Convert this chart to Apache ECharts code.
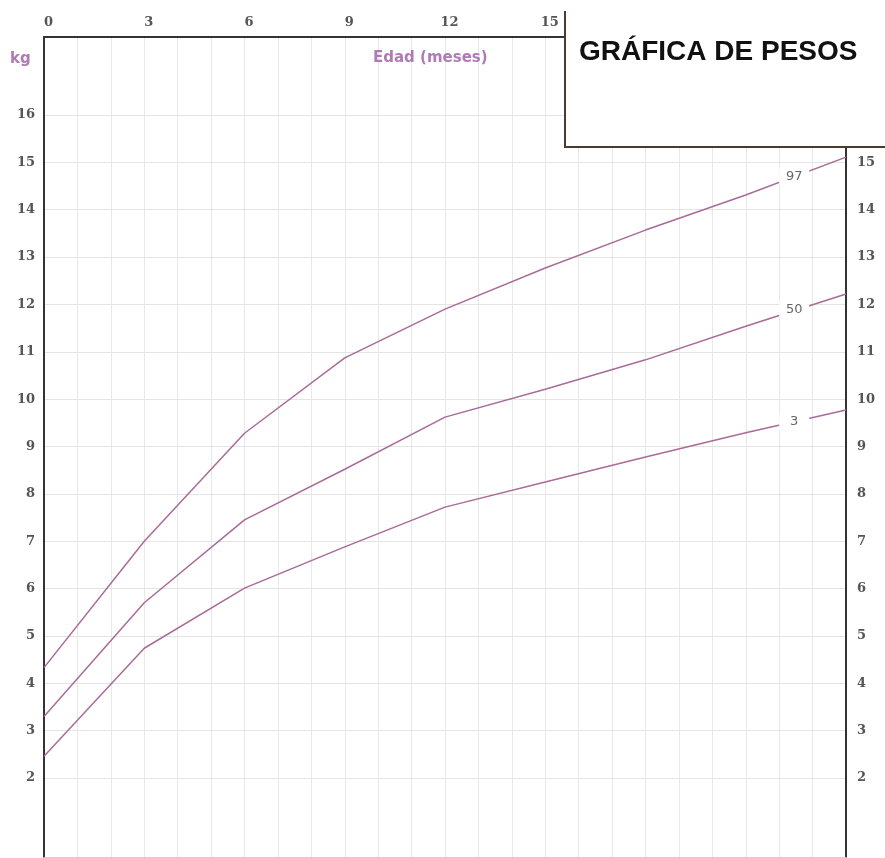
<!DOCTYPE html>
<html>
<head>
<meta charset="utf-8">
<script src="https://cdn.jsdelivr.net/npm/echarts@6/dist/echarts.min.js"></script>
<style>
  html, body { margin: 0; padding: 0; background: #fff; }
  #chart { width: 885px; height: 858px; }
</style>
</head>
<body>
<div id="chart"></div>
<script>
// ---- data ----
const months = [0, 3, 6, 9, 12, 15, 18, 21, 24];
const p97 = [4.33, 7.0, 9.28, 10.87, 11.9, 12.77, 13.57, 14.31, 15.11];
const p50 = [3.3, 5.7, 7.45, 8.52, 9.62, 10.21, 10.83, 11.54, 12.22];
const p3  = [2.46, 4.74, 6.01, 6.88, 7.72, 8.25, 8.78, 9.29, 9.77];
const seriesNames = ['97', '50', '3'];
const labelMonth = 22.45;
const labelValues = [14.7, 11.9, 9.52];
const topTickLabels = [0, 3, 6, 9, 12, 15, 18, 21, 24];
const kgMin = 2, kgMax = 16;
const title = 'GRÁFICA DE PESOS';
const yName = 'kg';
const xName = 'Edad (meses)';

const chart = echarts.init(document.getElementById('chart'), null, { renderer: 'canvas' });

const lineColor = '#a96b98';
const frameColor = '#333';
const tickFont = { fontFamily: 'DejaVu Serif', fontWeight: 'bold', fontSize: 13, color: '#555' };
const allSeries = [p97, p50, p3];

const series = allSeries.map((vals, i) => ({
  name: seriesNames[i],
  type: 'line',
  xAxisIndex: 2,
  yAxisIndex: 2,
  data: months.map((m, j) => [m, vals[j]]),
  symbol: 'none',
  lineStyle: { color: lineColor, width: 1.5 },
  itemStyle: { color: lineColor },
  silent: true,
  animation: false,
  z: 3,
  markPoint: {
    silent: true,
    animation: false,
    symbol: 'rect',
    symbolSize: [30, 16],
    itemStyle: { color: '#ffffff' },
    label: {
      show: true,
      position: 'inside',
      formatter: seriesNames[i],
      color: '#666',
      fontFamily: 'DejaVu Sans',
      fontSize: 13,
      padding: [3, 0, 0, 0]
    },
    data: [{ coord: [labelMonth, labelValues[i]] }]
  }
}));

const option = {
  animation: false,
  backgroundColor: '#ffffff',
  grid: [
    { left: 44, width: 802, top: 37, bottom: 1, containLabel: false, outerBoundsMode: 'none' },
    { left: 44, width: 802, top: 115, bottom: 80, containLabel: false, outerBoundsMode: 'none' }
  ],
  xAxis: [
    {
      gridIndex: 0, type: 'value', position: 'top', min: 0, max: 24, interval: 1,
      axisLine: { show: true, onZero: false, lineStyle: { color: frameColor, width: 2 } },
      axisTick: { show: false },
      axisLabel: Object.assign({
        margin: 8,
        padding: [0, 0, 0, 9],
        formatter: v => (topTickLabels.indexOf(v) >= 0 ? String(v) : '')
      }, tickFont),
      splitLine: { show: true, lineStyle: { color: '#e8e8e8', width: 1 } }
    },
    {
      gridIndex: 0, type: 'value', position: 'bottom', min: 0, max: 24,
      axisLine: { show: true, onZero: false, lineStyle: { color: '#d0d0d0', width: 1 } },
      axisTick: { show: false }, axisLabel: { show: false }, splitLine: { show: false }
    },
    {
      gridIndex: 1, type: 'value', min: 0, max: 24, show: false
    }
  ],
  yAxis: [
    {
      gridIndex: 0, type: 'value', position: 'left', min: 0, max: 1,
      axisLine: { show: true, onZero: false, lineStyle: { color: frameColor, width: 2 } },
      axisTick: { show: false }, axisLabel: { show: false }, splitLine: { show: false }
    },
    {
      gridIndex: 0, type: 'value', position: 'right', min: 0, max: 1,
      axisLine: { show: true, onZero: false, lineStyle: { color: frameColor, width: 2 } },
      axisTick: { show: false }, axisLabel: { show: false }, splitLine: { show: false }
    },
    {
      gridIndex: 1, type: 'value', position: 'left', min: kgMin, max: kgMax, interval: 1,
      axisLine: { show: false }, axisTick: { show: false },
      axisLabel: Object.assign({ margin: 9, padding: [0, 0, 8, 0] }, tickFont),
      splitLine: { show: true, showMinLine: true, showMaxLine: true, lineStyle: { color: '#e4e4e4', width: 1 } }
    },
    {
      gridIndex: 1, type: 'value', position: 'right', min: kgMin, max: kgMax, interval: 1,
      axisLine: { show: false }, axisTick: { show: false },
      axisLabel: Object.assign({ margin: 11, padding: [0, 0, 8, 0] }, tickFont),
      splitLine: { show: false }
    }
  ],
  graphic: [
    {
      type: 'text', left: 10, top: 52, z: 50,
      style: { text: yName, fill: '#b07ab5', font: 'bold 15px "DejaVu Sans"' }
    },
    {
      type: 'text', left: 373, top: 51, z: 50,
      style: { text: xName, fill: '#b07ab5', font: 'bold 15px "DejaVu Sans"' }
    },
    {
      type: 'rect', z: 100,
      shape: { x: 565, y: 11, width: 330, height: 136 },
      style: { fill: '#ffffff', stroke: null, lineWidth: 0 }
    },
    {
      type: 'polyline', z: 101,
      shape: { points: [[565, 11], [565, 147], [890, 147]] },
      style: { fill: null, stroke: '#4a3a32', lineWidth: 2 }
    },
    {
      type: 'text', z: 102, left: 579, top: 38,
      style: { text: title, fill: '#111', font: 'bold 28px "Liberation Sans", Arial, sans-serif' }
    }
  ],
  series: series
};

chart.setOption(option);
</script>
</body>
</html>
